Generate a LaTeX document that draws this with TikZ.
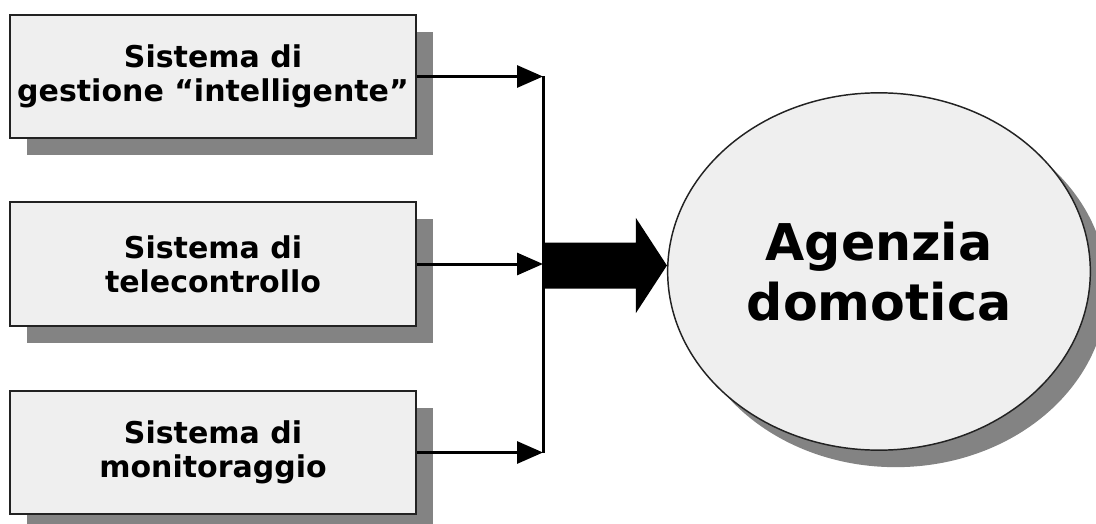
\documentclass[tikz,border=0pt]{standalone}
\usepackage{fontspec}
\setmainfont{DejaVu Sans}
\usetikzlibrary{shapes.geometric,shadows,arrows.meta,calc}
\definecolor{boxfill}{HTML}{EFEFEF}
\definecolor{shadowgray}{HTML}{838383}
\definecolor{edge}{HTML}{222222}
\begin{document}
\begin{tikzpicture}[x=0.75pt,y=-0.75pt,
  softshadow/.style={drop shadow={shadow xshift=12.5pt, shadow yshift=-12.75pt, fill=shadowgray, opacity=1}},
  sysbox/.style={draw=edge, line width=1.5pt, fill=boxfill, softshadow,
    minimum width=304.5pt, minimum height=92.5pt, inner sep=0pt, align=center,
    font=\fontsize{22.5}{25.5}\selectfont\bfseries},
  agency/.style={ellipse, draw=edge, line width=1.1pt, fill=boxfill, softshadow,
    minimum width=317pt, minimum height=268pt, inner sep=0pt, align=center,
    font=\fontsize{38}{45}\selectfont\bfseries},
  feed/.style={draw=black, line width=2.25pt, -{Triangle[length=19.5pt, width=16.5pt]}},
  busline/.style={draw=black, line width=2.25pt}
]
\useasboundingbox (0,0) rectangle (1096,524);

% the three subsystems
\node[sysbox] (s1) at (213,76.5) {Sistema di\\gestione “intelligente”};
\node[sysbox] (s2) at (213,264) {Sistema di\\telecontrollo};
\node[sysbox] (s3) at (213,452.5) {Sistema di\\monitoraggio};

% the agency
\node[agency] (ag) at (879,271.5) {Agenzia\\domotica};

% collecting bus
\coordinate (bustop) at (543,76.5);
\coordinate (busbot) at (543,452.5);
\coordinate (busmid) at (543,265.5);
\draw[busline] (bustop) -- (busbot);

\draw[feed] (s1.east) -- (s1.east -| bustop);
\draw[feed] (s2.east) -- (s2.east -| bustop);
\draw[feed] (s3.east) -- (s3.east -| bustop);

% block arrow from the bus to the agency
\coordinate (apex) at (ag.west |- busmid);
\fill[black] ($(busmid)+(0,-23)$) -- ($(apex)+(-31,-23)$) -- ($(apex)+(-31,-47.5)$)
  -- (apex) -- ($(apex)+(-31,47.5)$) -- ($(apex)+(-31,23)$) -- ($(busmid)+(0,23)$) -- cycle;
\end{tikzpicture}
\end{document}
